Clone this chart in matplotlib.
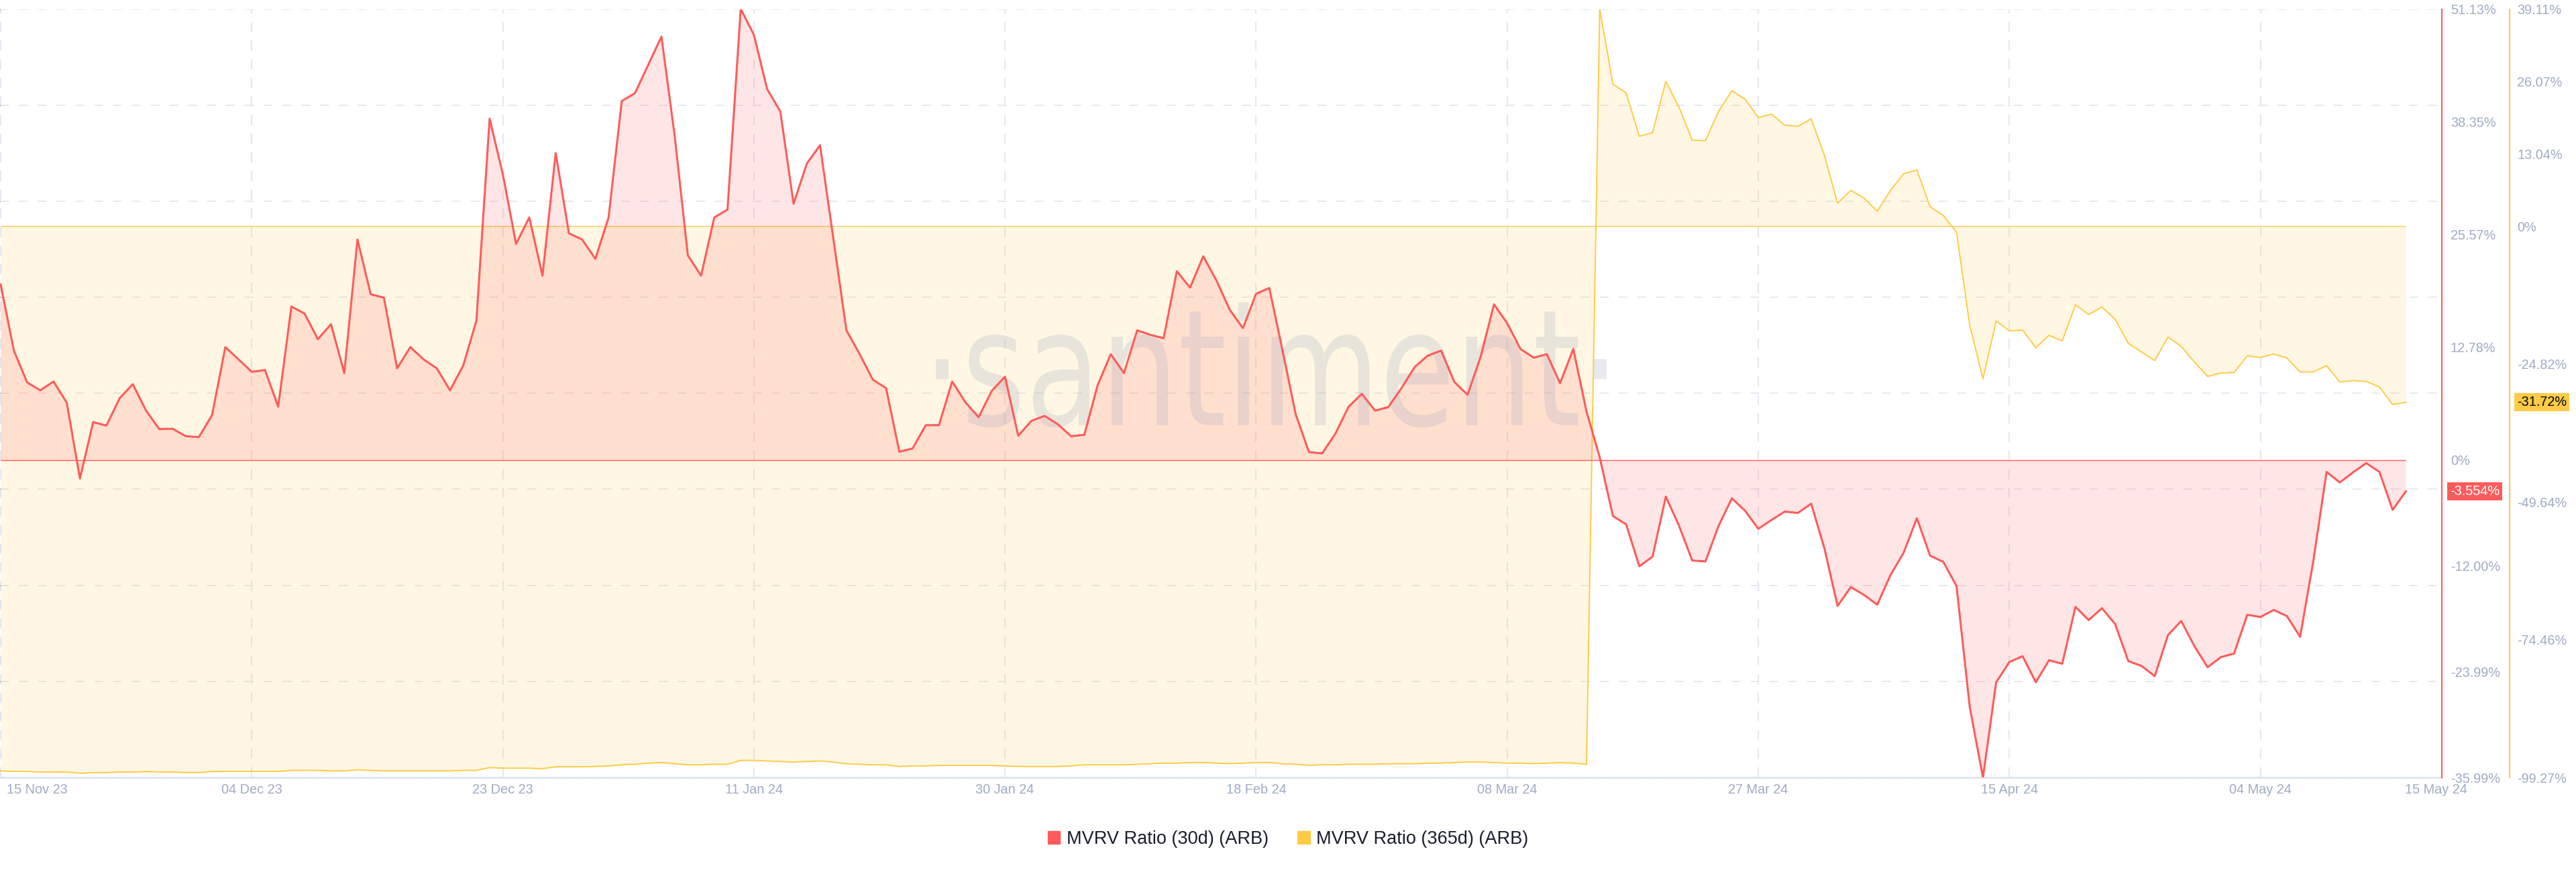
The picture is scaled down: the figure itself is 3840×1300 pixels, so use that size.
import numpy as np
import pandas as pd
import matplotlib
matplotlib.use("Agg")
import matplotlib.pyplot as plt
from matplotlib.patches import Patch, PathPatch
from matplotlib.textpath import TextPath
from matplotlib.font_manager import FontProperties
from matplotlib.transforms import Affine2D, ScaledTranslation, blended_transform_factory

plt.rcParams['font.family'] = ['Liberation Sans', 'DejaVu Sans']
plt.rcParams['lines.scale_dashes'] = False

# ── DATA ──────────────────────────────────────────────────────────────
dates = pd.date_range('2023-11-15', '2024-05-15', freq='D')

mvrv_30d = [
    19.9, 12.4, 8.8, 7.9, 8.9, 6.5, -2.1, 4.3, 3.9, 7.0,
    8.6, 5.6, 3.5, 3.55, 2.7, 2.6, 5.1, 12.8, 11.4, 10.0,
    10.2, 6.05, 17.4, 16.6, 13.7, 15.4, 9.85, 25.0, 18.8, 18.4,
    10.4, 12.8, 11.4, 10.4, 7.9, 10.7, 15.8, 38.7, 32.4, 24.5,
    27.5, 20.9, 34.8, 25.7, 25.0, 22.8, 27.5, 40.7, 41.6, 44.8,
    48.0, 36.8, 23.2, 20.9, 27.5, 28.4, 51.13, 48.2, 42.05, 39.5,
    29.05, 33.6, 35.7, 25.2, 14.7, 12.0, 9.1, 8.15, 0.95, 1.3,
    3.95, 3.95, 8.9, 6.55, 4.85, 7.85, 9.45, 2.75, 4.45, 5.0,
    4.05, 2.7, 2.85, 8.45, 12.0, 9.85, 14.7, 14.2, 13.8, 21.4,
    19.55, 23.1, 20.35, 17.05, 14.95, 18.85, 19.5, 12.4, 5.15, 0.9,
    0.75, 3.0, 6.05, 7.5, 5.6, 6.0, 8.15, 10.55, 11.85, 12.4,
    8.85, 7.4, 11.75, 17.65, 15.5, 12.6, 11.6, 12.0, 8.7, 12.6,
    5.5, 0.3, -6.35, -7.3, -12.05, -10.95, -4.15, -7.45, -11.4, -11.5,
    -7.45, -4.35, -5.75, -7.8, -6.8, -5.85, -6.0, -4.95, -10.0, -16.55,
    -14.4, -15.3, -16.4, -13.05, -10.5, -6.6, -10.85, -11.55, -14.3, -28.0,
    -35.99, -25.2, -22.9, -22.25, -25.2, -22.7, -23.1, -16.65, -18.15, -16.8,
    -18.6, -22.8, -23.35, -24.5, -19.85, -18.25, -21.1, -23.5, -22.35, -21.95,
    -17.55, -17.8, -17.0, -17.7, -20.05, -11.45, -1.35, -2.55, -1.4, -0.35,
    -1.35, -5.65, -3.554,
]

mvrv_365d = [
    -98.1, -98.2, -98.2, -98.3, -98.3, -98.3, -98.5, -98.4, -98.4, -98.3,
    -98.3, -98.2, -98.3, -98.3, -98.4, -98.4, -98.2, -98.2, -98.2, -98.2,
    -98.2, -98.2, -98.0, -98.0, -98.0, -98.1, -98.1, -97.9, -98.0, -98.1,
    -98.1, -98.1, -98.1, -98.1, -98.1, -98.0, -98.0, -97.5, -97.6, -97.6,
    -97.6, -97.7, -97.35, -97.35, -97.35, -97.3, -97.2, -97.0, -96.9, -96.7,
    -96.6, -96.8, -97.0, -97.0, -96.9, -96.9, -96.2, -96.2, -96.3, -96.4,
    -96.5, -96.4, -96.3, -96.5, -96.8, -96.9, -97.0, -97.0, -97.3, -97.2,
    -97.2, -97.1, -97.1, -97.1, -97.1, -97.1, -97.2, -97.3, -97.3, -97.3,
    -97.3, -97.2, -97.0, -97.0, -97.0, -97.0, -96.9, -96.8, -96.7, -96.7,
    -96.6, -96.6, -96.7, -96.8, -96.7, -96.6, -96.6, -96.8, -96.9, -97.1,
    -97.0, -97.0, -96.9, -96.9, -96.9, -96.8, -96.8, -96.8, -96.7, -96.7,
    -96.6, -96.5, -96.5, -96.6, -96.7, -96.7, -96.8, -96.7, -96.6, -96.7,
    -96.9, 39.11, 25.6, 24.0, 16.2, 16.85, 26.1, 21.45, 15.5, 15.4,
    20.7, 24.4, 22.9, 19.55, 20.2, 18.2, 18.0, 19.35, 12.8, 4.15,
    6.45, 5.1, 2.7, 6.45, 9.45, 10.15, 3.5, 1.95, -1.1, -17.85,
    -27.5, -17.05, -18.85, -18.7, -21.9, -19.65, -20.65, -14.15, -15.9, -14.55,
    -16.75, -21.1, -22.65, -24.2, -19.95, -21.65, -24.45, -27.05, -26.45, -26.35,
    -23.35, -23.65, -23.0, -23.75, -26.25, -26.25, -25.1, -28.05, -27.8, -27.95,
    -28.95, -32.1, -31.72,
]

red_ticks = [51.13, 38.35, 25.57, 12.78, 0, -12.00, -23.99, -35.99]
red_tick_labels = ['51.13%', '38.35%', '25.57%', '12.78%', '0%', '-12.00%', '-23.99%', '-35.99%']
yellow_ticks = [39.11, 26.07, 13.04, 0, -24.82, -49.64, -74.46, -99.27]
yellow_tick_labels = ['39.11%', '26.07%', '13.04%', '0%', '-24.82%', '-49.64%', '-74.46%', '-99.27%']

date_ticks = pd.to_datetime(['2023-11-15', '2023-12-04', '2023-12-23', '2024-01-11', '2024-01-30',
                             '2024-02-18', '2024-03-08', '2024-03-27', '2024-04-15', '2024-05-04'])
date_tick_labels = ['15 Nov 23', '04 Dec 23', '23 Dec 23', '11 Jan 24', '30 Jan 24',
                    '18 Feb 24', '08 Mar 24', '27 Mar 24', '15 Apr 24', '04 May 24']
last_label = '15 May 24'

series_names = ['MVRV Ratio (30d) (ARB)', 'MVRV Ratio (365d) (ARB)']

RED = '#ff5b5b'
YELLOW = '#ffcb47'
TICK = '#9faac4'
GRID = '#e7e9f2'

# ── FIGURE ────────────────────────────────────────────────────────────
fig = plt.figure(figsize=(38.4, 13), dpi=100)
ax = fig.add_axes([0.0, 0.10846, 0.9479, 0.88115])

# base axes: grid + date axis
ax.set_ylim(0, 8)
ax.set_yticks(range(9))
ax.tick_params(axis='y', left=False, labelleft=False)
ax.yaxis.grid(True, color=GRID, lw=1.4, ls=(0, (9.6, 10.6)))
ax.set_xticks(date_ticks)
ax.set_xticklabels(date_tick_labels)
ax.xaxis.grid(True, color=GRID, lw=1.6, ls=(0, (11, 9)))
ax.tick_params(axis='x', length=0, pad=6.5, labelsize=14.3, labelcolor=TICK)
ax.set_xlim(dates[0] - pd.Timedelta(hours=1.2), dates[-1] + pd.Timedelta(days=2.72))
for s in ['left', 'right', 'top']:
    ax.spines[s].set_visible(False)
ax.spines['bottom'].set_color('#e1e5ee')
ax.spines['bottom'].set_linewidth(2)
ax.set_axisbelow(True)

first = ax.get_xticklabels()[0]
first.set_horizontalalignment('left')
first.set_transform(first.get_transform() + ScaledTranslation(9 / 100, 0, fig.dpi_scale_trans))

ax.annotate(last_label, xy=(1, 0), xycoords='axes fraction', xytext=(27, -6.5),
            textcoords='offset points', ha='right', va='top', fontsize=14.3, color=TICK)

# yellow axis (365d)
ax_y = ax.twinx()
ax_y.fill_between(dates, mvrv_365d, 0, color=YELLOW, alpha=0.15, lw=0, zorder=1)
ax_y.hlines(0, dates[0], dates[-1], color=YELLOW, lw=1.0, zorder=1.2)
ax_y.plot(dates, mvrv_365d, color=YELLOW, lw=1.4, zorder=2)
ax_y.set_ylim(-99.27, 39.11)
ax_y.set_yticks(yellow_ticks)
ax_y.set_yticklabels(yellow_tick_labels)
ax_y.spines['right'].set_position(('axes', 3741 / 3640))

# red axis (30d)
ax_r = ax.twinx()
ax_r.fill_between(dates, mvrv_30d, 0, color=RED, alpha=0.15, lw=0, zorder=1)
ax_r.hlines(0, dates[0], dates[-1], color=RED, lw=1.0, zorder=1.2)
ax_r.plot(dates, mvrv_30d, color=RED, lw=2.2, zorder=2)
ax_r.set_ylim(-35.99, 51.13)
ax_r.set_yticks(red_ticks)
ax_r.set_yticklabels(red_tick_labels)

for a, c, pad in [(ax_y, YELLOW, 8), (ax_r, RED, 9.4)]:
    for s in ['left', 'top', 'bottom']:
        a.spines[s].set_visible(False)
    a.spines['right'].set_color(c)
    a.spines['right'].set_linewidth(1.5)
    a.tick_params(axis='y', length=0, pad=pad, labelsize=14.3, labelcolor=TICK)

# last-value badges
tr_r = blended_transform_factory(ax_r.transAxes, ax_r.transData)
ax_r.text(1.0033, mvrv_30d[-1], f'{mvrv_30d[-1]:.3f}%', transform=tr_r, ha='left', va='center',
          fontsize=14.3, color='white', clip_on=False,
          bbox=dict(boxstyle='square,pad=0.2', fc=RED, ec='none'))
tr_y = blended_transform_factory(ax_y.transAxes, ax_y.transData)
ax_y.text(1.0308, mvrv_365d[-1], f'{mvrv_365d[-1]:.2f}%', transform=tr_y, ha='left', va='center',
          fontsize=14.3, color='black', clip_on=False,
          bbox=dict(boxstyle='square,pad=0.2', fc=YELLOW, ec='none'))

# watermark
fp = FontProperties(family='DejaVu Sans')
tp = TextPath((0, 0), '·santiment·', size=100, prop=fp)
ext = tp.get_extents()
xh = TextPath((0, 0), 'x', size=100, prop=fp).get_extents().height
wm_tr = Affine2D().translate(-ext.x0, 0).scale(1000 / ext.width, 132 / xh).translate(1395, 1300 - 634)
ax_r.add_artist(PathPatch(tp, transform=wm_tr, fc=TICK, ec='none', alpha=0.24, zorder=1.5))

# legend
handles = [Patch(color=RED), Patch(color=YELLOW)]
fig.legend(handles, series_names, loc='center', bbox_to_anchor=(0.5, 0.0377), ncol=2,
           frameon=False, fontsize=19.5, handlelength=0.68, handleheight=0.68,
           handletextpad=0.35, columnspacing=1.6, labelcolor='#181d2b')

fig.savefig('out.png', dpi=100)
